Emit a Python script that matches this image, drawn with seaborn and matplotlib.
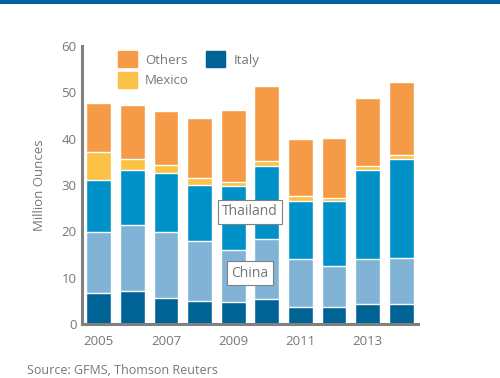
import numpy as np
import pandas as pd
import matplotlib.pyplot as plt
import seaborn as sns
from matplotlib.patches import Patch, Rectangle

years = [2005, 2006, 2007, 2008, 2009, 2010, 2011, 2012, 2013, 2014]
italy = [6.6, 7.1, 5.7, 5.0, 4.7, 5.4, 3.7, 3.7, 4.3, 4.3]
china = [13.3, 14.3, 14.2, 12.9, 11.3, 13.0, 10.3, 8.9, 9.7, 10.0]
thailand = [11.2, 11.9, 12.8, 12.1, 13.7, 15.7, 12.6, 14.0, 19.3, 21.3]
mexico = [6.0, 2.3, 1.6, 1.5, 1.0, 1.1, 1.0, 0.6, 0.8, 0.8]
others = [10.6, 11.7, 11.7, 13.0, 15.5, 16.2, 12.4, 13.0, 14.7, 15.9]

tick_years = ['2005', '2007', '2009', '2011', '2013']

df = pd.DataFrame({'Year': [str(y) for y in years], 'Italy': italy, 'China': china,
                   'Thailand': thailand, 'Mexico': mexico, 'Others': others})

colors = {'Italy': '#006396', 'China': '#80b3d5', 'Thailand': '#0091c8',
          'Mexico': '#fbc245', 'Others': '#f59b48'}
order = ['Italy', 'China', 'Thailand', 'Mexico', 'Others']

sns.set_style('white')
plt.rcParams['font.family'] = ['Open Sans', 'DejaVu Sans']
gray = '#808080'
txt = '#777777'

fig = plt.figure(figsize=(5, 3.78), dpi=100)
ax = fig.add_axes([0.164, 0.143, 0.672, 0.735])

# stacked bars: draw cumulative totals from the top layer down
cum = df[order].cumsum(axis=1)
for name in reversed(order):
    sns.barplot(x=df['Year'], y=cum[name], color=colors[name], saturation=1,
                width=0.74, errorbar=None, ax=ax)

ax.set_xlim(-0.5, 9.5)
ax.set_ylim(0, 60)
ax.set_yticks(range(0, 61, 10))
pos = [-0.5] + [df['Year'].tolist().index(t) for t in tick_years] + [9.5]
ax.set_xticks(pos)
ax.set_xticklabels([''] + tick_years + [''])
ax.set_xlabel('')
ax.set_ylabel('Million Ounces', color=txt, fontsize=9.5, labelpad=11)

for s in ['top', 'right']:
    ax.spines[s].set_visible(False)
for s in ['left', 'bottom']:
    ax.spines[s].set_color(gray)
    ax.spines[s].set_linewidth(2.2)
ax.tick_params(axis='y', direction='in', length=6, width=2.2, color=gray,
               labelcolor=txt, labelsize=9.5, pad=4)
ax.tick_params(axis='x', direction='out', length=6, width=2.2, color=gray,
               labelcolor=txt, labelsize=9.5, pad=2)

box = dict(boxstyle='square,pad=0.3', fc='white', ec=gray, lw=0.8)
ax.text(4.5, 24.2, 'Thailand', ha='center', va='center', color=txt, fontsize=10, bbox=box)
ax.text(4.5, 11.0, 'China', ha='center', va='center', color=txt, fontsize=10, bbox=box)

handles = [Patch(color=colors['Others'], label='Others'),
           Patch(color=colors['Mexico'], label='Mexico'),
           Patch(color=colors['Italy'], label='Italy')]
ax.legend(handles=handles, ncol=2, frameon=False, loc='upper left',
          bbox_to_anchor=(0.088, 1.005), fontsize=9.5, handlelength=1.45,
          handleheight=1.45, handletextpad=0.6, columnspacing=1.3,
          labelspacing=0.4, borderpad=0, labelcolor=txt)

fig.add_artist(Rectangle((0, 1 - 4 / 378), 1, 4 / 378, transform=fig.transFigure,
                         color='#00629b', lw=0))
fig.text(27 / 500, 1 - 370 / 378, 'Source: GFMS, Thomson Reuters', color=txt,
         fontsize=9, va='center', ha='left')

fig.savefig('out.png', dpi=100)
